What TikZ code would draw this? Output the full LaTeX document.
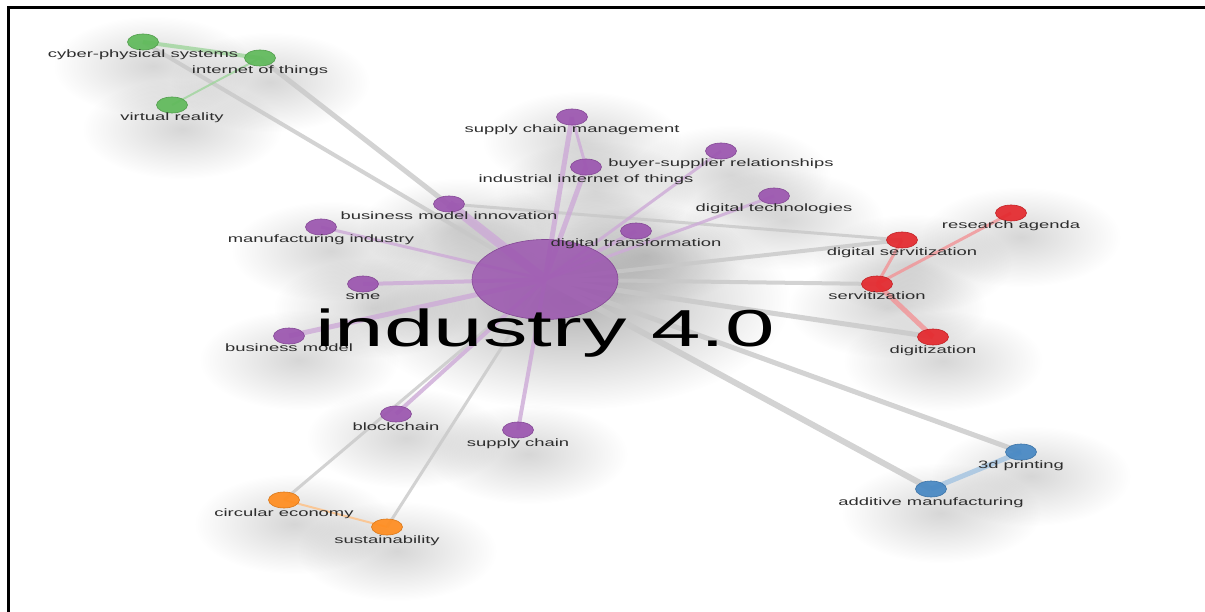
\documentclass[tikz,border=0pt]{standalone}
\usepackage{fontspec}
\setmainfont{Liberation Sans}
\usepackage{graphicx}
\usetikzlibrary{shapes.geometric,fadings}

\definecolor{cpurple}{RGB}{155,85,175}
\definecolor{cgreen}{RGB}{95,185,90}
\definecolor{cred}{RGB}{228,40,45}
\definecolor{corange}{RGB}{255,140,30}
\definecolor{cblue}{RGB}{70,135,195}
\definecolor{egray}{RGB}{200,200,200}
\definecolor{lbltext}{RGB}{45,45,45}

\tikzfading[name=hazeblob, inner color=transparent!0, outer color=transparent!100]

\pgfdeclarelayer{paper}
\pgfdeclarelayer{haze}
\pgfdeclarelayer{edges}
\pgfsetlayers{paper,haze,edges,main}

% keyword labels are set wide, as in the map export
\newcommand\widetext[1]{\scalebox{1.72}[1]{#1}}

\tikzset{
  kw/.style={ellipse, minimum width=31pt, minimum height=16pt, inner sep=0pt,
    fill=#1, draw=#1!85!black, line width=0.6pt, fill opacity=0.92},
  lbl/.style={anchor=base, inner sep=0pt, text=lbltext,
    font=\fontsize{10.7}{12}\selectfont},
  link/.style={line width=#1, draw opacity=0.8},
  pedge/.style={link=#1, draw=cpurple!50},
  gedge/.style={link=#1, draw=egray},
  redge/.style={link=#1, draw=cred!50},
  gredge/.style={link=#1, draw=cgreen!60},
  oedge/.style={link=#1, draw=corange!55},
  bedge/.style={link=#1, draw=cblue!50},
}

% keyword: name, x, y, colour, text
\newcommand\kwnode[5]{%
  \begin{pgfonlayer}{haze}
    \fill[black, opacity=0.16, path fading=hazeblob] (#2+10,#3+24) ellipse (100pt and 50pt);
  \end{pgfonlayer}
  \node[kw=#4] (#1) at (#2,#3) {};
  \node[lbl] (#1-t) at (#2,#3+16) {\widetext{#5}};
}

\begin{document}
\begin{tikzpicture}[x=1pt, y=-1pt]
\useasboundingbox (0,0) rectangle (1205,612);
\begin{pgfonlayer}{paper}
  \fill[white] (0,0) rectangle (1205,612);
\end{pgfonlayer}

% central keyword
\begin{pgfonlayer}{haze}
  \fill[black, opacity=0.3, path fading=hazeblob] (570,300) ellipse (220pt and 110pt);
\end{pgfonlayer}
\node[ellipse, minimum width=146pt, minimum height=80pt, inner sep=0pt,
  fill=cpurple, draw=cpurple!85!black, line width=0.6pt, fill opacity=0.85] (hub) at (545,279.5) {};

% green cluster
\kwnode{cps}{143}{42}{cgreen}{cyber-physical systems}
\kwnode{iot}{260}{58}{cgreen}{internet of things}
\kwnode{vr}{172}{105}{cgreen}{virtual reality}

% purple cluster
\kwnode{scm}{572}{117}{cpurple}{supply chain management}
\kwnode{iiot}{586}{167}{cpurple}{industrial internet of things}
\kwnode{bsr}{721}{151}{cpurple}{buyer-supplier relationships}
\kwnode{dtech}{774}{196}{cpurple}{digital technologies}
\kwnode{bmi}{449}{204}{cpurple}{business model innovation}
\kwnode{dtrans}{636}{231}{cpurple}{digital transformation}
\kwnode{mi}{321}{227}{cpurple}{manufacturing industry}
\kwnode{sme}{363}{284}{cpurple}{sme}
\kwnode{bm}{289}{336}{cpurple}{business model}
\kwnode{bc}{396}{414}{cpurple}{blockchain}
\kwnode{sc}{518}{430}{cpurple}{supply chain}

% red cluster
\kwnode{ra}{1011}{213}{cred}{research agenda}
\kwnode{ds}{902}{240}{cred}{digital servitization}
\kwnode{serv}{877}{284}{cred}{servitization}
\kwnode{digi}{933}{337}{cred}{digitization}

% orange cluster
\kwnode{ce}{284}{500}{corange}{circular economy}
\kwnode{sust}{387}{527}{corange}{sustainability}

% blue cluster
\kwnode{tdp}{1021}{452}{cblue}{3d printing}
\kwnode{am}{931}{489}{cblue}{additive manufacturing}

% central label
\node[anchor=base, inner sep=0pt, text=black, font=\fontsize{52}{60}\selectfont] (hub-t) at (545,347) {\scalebox{1.71}[1]{industry 4.0}};

\begin{pgfonlayer}{edges}
  % links between clusters
  \draw[gedge=4pt] (hub.center) -- (cps.center);
  \draw[gedge=5pt] (hub.center) -- (iot.center);
  \draw[gedge=4pt] (hub.center) -- (ds.center);
  \draw[gedge=4pt] (hub.center) -- (serv.center);
  \draw[gedge=5pt] (hub.center) -- (digi.center);
  \draw[gedge=5pt] (hub.center) -- (tdp.center);
  \draw[gedge=6pt] (hub.center) -- (am.center);
  \draw[gedge=3pt] (hub.center) -- (ce.center);
  \draw[gedge=3pt] (hub.center) -- (sust.center);
  \draw[gedge=3pt] (bmi.center) -- (ds.center);
  % purple cluster
  \draw[pedge=5pt] (hub.center) -- (scm.center);
  \draw[pedge=5pt] (hub.center) -- (iiot.center);
  \draw[pedge=3pt] (hub.center) -- (bsr.center);
  \draw[pedge=3pt] (hub.center) -- (dtech.center);
  \draw[pedge=4pt] (hub.center) -- (dtrans.center);
  \draw[pedge=9pt] (hub.center) -- (bmi.center);
  \draw[pedge=3pt] (hub.center) -- (mi.center);
  \draw[pedge=4pt] (hub.center) -- (sme.center);
  \draw[pedge=5pt] (hub.center) -- (bm.center);
  \draw[pedge=4pt] (hub.center) -- (bc.center);
  \draw[pedge=4pt] (hub.center) -- (sc.center);
  \draw[pedge=3pt] (scm.center) -- (iiot.center);
  % red cluster
  \draw[redge=3pt] (ds.center) -- (serv.center);
  \draw[redge=3pt] (ra.center) -- (serv.center);
  \draw[redge=5pt] (serv.center) -- (digi.center);
  % green cluster
  \draw[gredge=4pt] (cps.center) -- (iot.center);
  \draw[gredge=2pt] (iot.center) -- (vr.center);
  % orange cluster
  \draw[oedge=2pt] (ce.center) -- (sust.center);
  % blue cluster
  \draw[bedge=5pt] (am.center) -- (tdp.center);
\end{pgfonlayer}

% frame
\coordinate (fr-bl) at (8.5,612);
\coordinate (fr-tl) at (8.5,7.5);
\coordinate (fr-tr) at (1205,7.5);
\draw[line width=3pt] (fr-bl) -- (fr-tl) -- (fr-tr);
\end{tikzpicture}
\end{document}
